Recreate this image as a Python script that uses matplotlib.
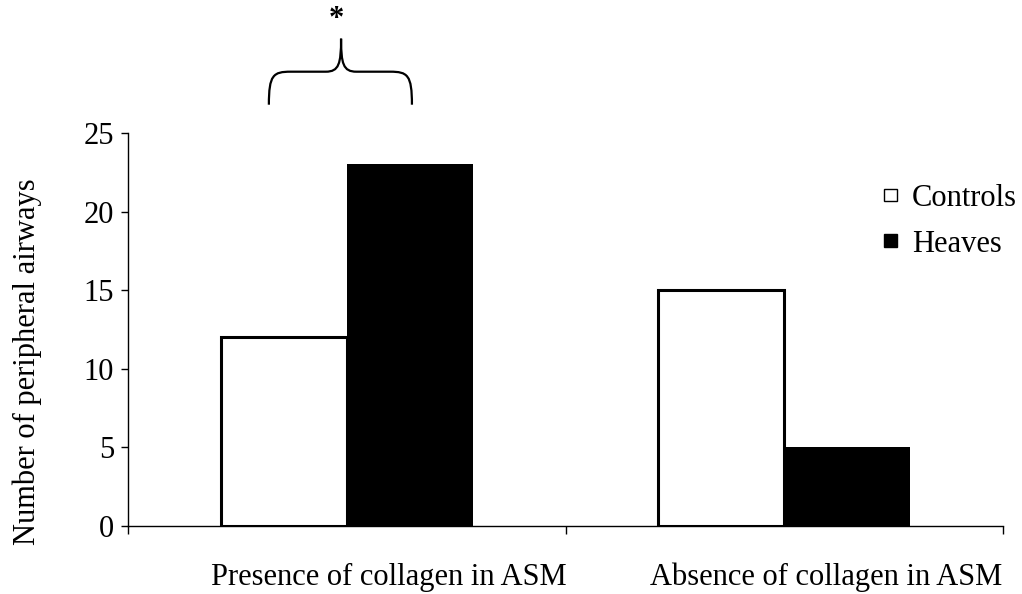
import matplotlib.pyplot as plt
import numpy as np
from matplotlib.path import Path
from matplotlib.patches import PathPatch

categories = ["Presence of collagen in ASM", "Absence of collagen in ASM"]
controls = [12, 15]
heaves = [23, 5]
yticks = [0, 5, 10, 15, 20, 25]

plt.rcParams["font.family"] = ["Liberation Serif", "DejaVu Serif"]
FS = 22

fig = plt.figure(figsize=(10.22, 5.94), dpi=100)
ax = fig.add_axes([128 / 1022, 68 / 594, 875 / 1022, 393 / 594])

x = np.arange(len(categories))
width = 0.288
ax.bar(x - width / 2, controls, width, color="white", edgecolor="black",
       linewidth=2.2, label="Controls", zorder=3)
ax.bar(x + width / 2, heaves, width, color="black", edgecolor="black",
       linewidth=0, label="Heaves", zorder=3)

ax.set_xlim(-0.5, 1.5)
ax.set_ylim(0, 25)
ax.set_yticks(yticks)
ax.set_yticklabels([str(v) for v in yticks], fontsize=FS)
ax.tick_params(axis="y", direction="out", length=5, width=1, pad=5)

# ticks sit between the groups; group names are written underneath
ax.set_xticks([-0.5, 0.5, 1.5])
ax.set_xticklabels([])
ax.tick_params(axis="x", direction="out", length=6, width=1)
for xi, name in zip(x, categories):
    ax.annotate(name, xy=(xi, 0), xycoords=("data", "axes fraction"),
                xytext=(30, -37), textcoords="offset points",
                ha="center", va="center", fontsize=FS, annotation_clip=False)

for side in ("top", "right"):
    ax.spines[side].set_visible(False)
ax.spines["left"].set_linewidth(1)
ax.spines["bottom"].set_linewidth(1)

ax.set_ylabel("Number of peripheral airways", fontsize=FS)
ax.yaxis.set_label_coords(-0.098, 0.417)

leg = ax.legend(loc="upper left", bbox_to_anchor=(884 / 1022, 1 - 184 / 594),
                bbox_transform=fig.transFigure, frameon=False, fontsize=FS,
                borderpad=0, borderaxespad=0, handlelength=0.42,
                handleheight=0.26, handletextpad=0.5, labelspacing=0.55)
for h in leg.legend_handles:
    h.set_linewidth(1)
    h.set_edgecolor("black")

# significance brace over the first group
xl, xr, xm = -0.178, 0.149, -0.013
yb, yh, yt = 26.8, 28.9, 31.0
c = 0.05
verts = [
    (xl, yb), (xl, yh - 0.2), (xl + 0.01, yh), (xl + c, yh),
    (xm - 0.035, yh), (xm - 0.005, yh), (xm, yh + 0.5), (xm, yt),
    (xm, yh + 0.5), (xm + 0.005, yh), (xm + 0.035, yh),
    (xr - c, yh), (xr - 0.01, yh), (xr, yh - 0.2), (xr, yb),
]
codes = [Path.MOVETO, Path.CURVE4, Path.CURVE4, Path.CURVE4,
         Path.LINETO, Path.CURVE4, Path.CURVE4, Path.CURVE4,
         Path.CURVE4, Path.CURVE4, Path.CURVE4,
         Path.LINETO, Path.CURVE4, Path.CURVE4, Path.CURVE4]
brace = PathPatch(Path(verts, codes), facecolor="none", edgecolor="black",
                  linewidth=1.6, clip_on=False)
ax.add_patch(brace)
ax.text(xm - 0.01, 31.3, "*", ha="center", va="bottom", fontsize=FS,
        fontweight="bold", clip_on=False)

fig.savefig("out.png", dpi=100)
